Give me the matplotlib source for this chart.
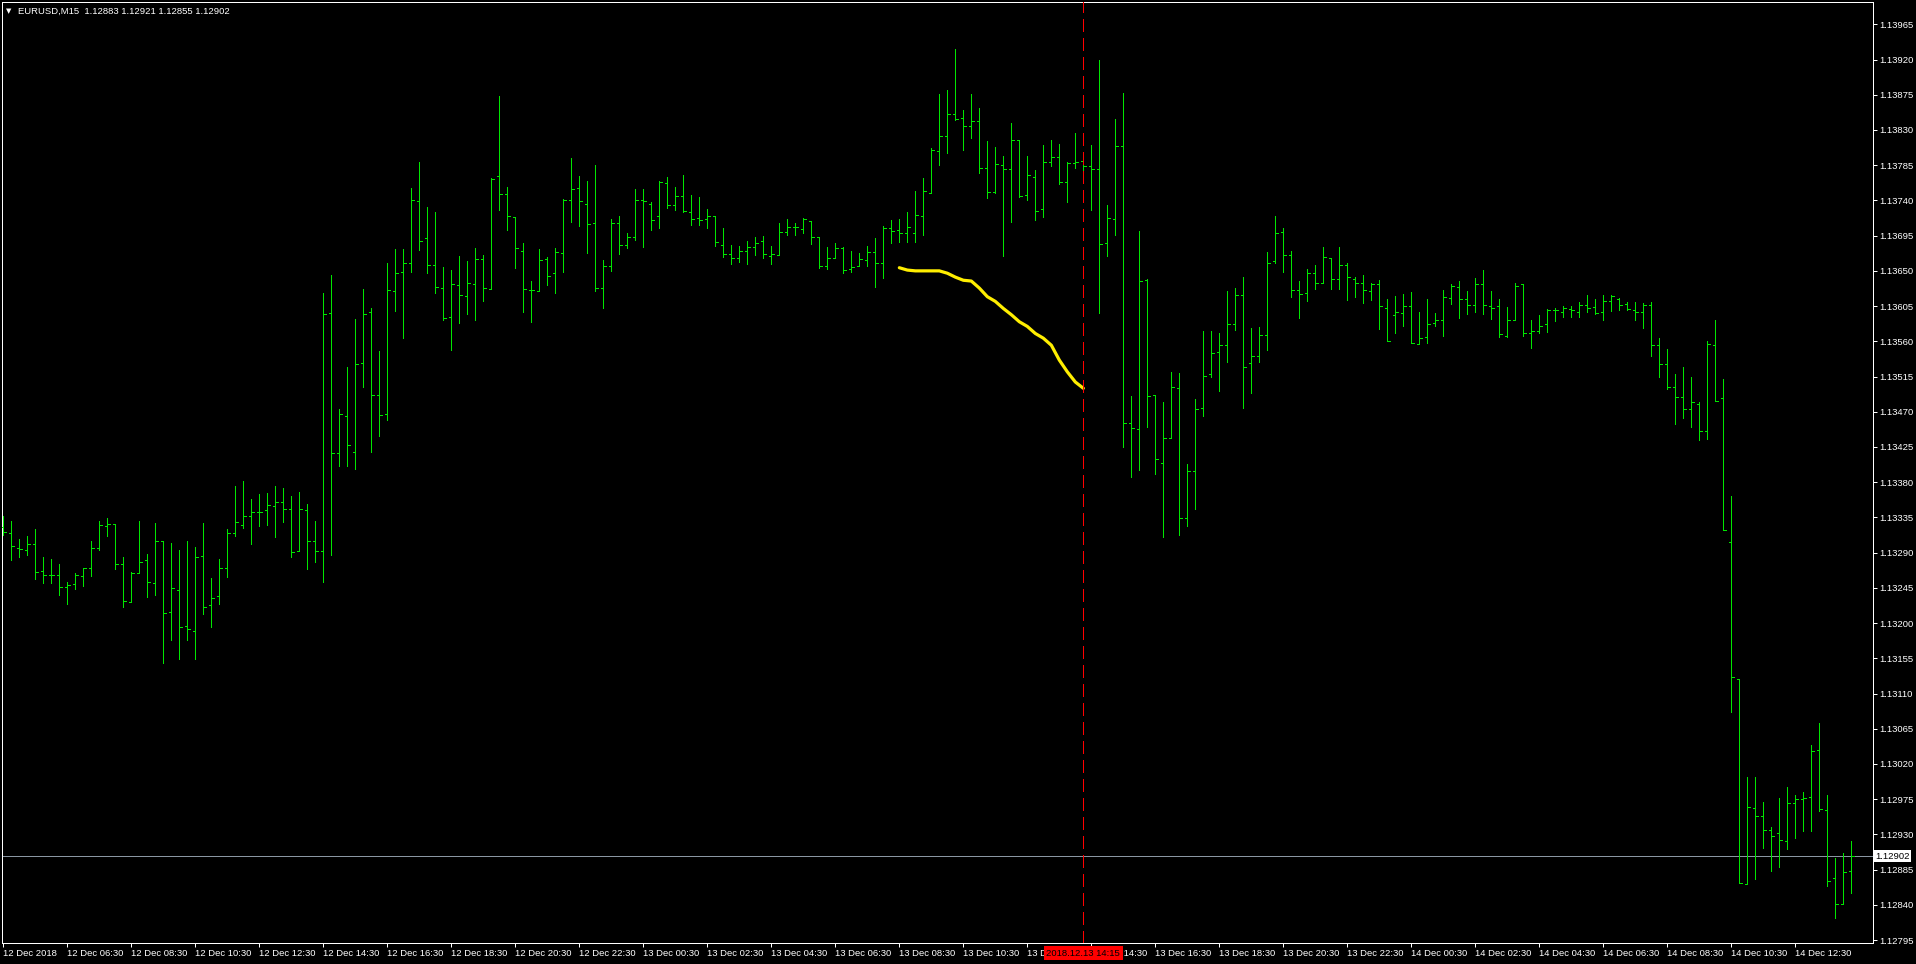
import matplotlib
matplotlib.use('Agg')
import matplotlib.pyplot as plt
from matplotlib.collections import LineCollection
import numpy as np

W, H, DPI = 1916, 964, 100
PX = 72 / DPI  # one pixel in points

# EURUSD M15 bars, prices in points (1e-5), first bar 12 Dec 2018 04:30
opens = [113323, 113315, 113296, 113294, 113301, 113267, 113262, 113262, 113246, 113250,
         113260, 113271, 113296, 113324, 113327, 113276, 113227, 113264, 113281, 113251,
         113305, 113214, 113242, 113196, 113190, 113286, 113223, 113235, 113271, 113315,
         113325, 113337, 113342, 113345, 113350, 113355, 113346, 113292, 113345, 113305,
         113292, 113596, 113417, 113464, 113418, 113532, 113597, 113492, 113467, 113624,
         113648, 113660, 113739, 113692, 113658, 113628, 113591, 113632, 113618, 113633,
         113665, 113627, 113771, 113748, 113719, 113676, 113625, 113624, 113665, 113647,
         113673, 113740, 113756, 113736, 113711, 113628, 113656, 113711, 113683, 113693,
         113740, 113735, 113720, 113762, 113734, 113746, 113725, 113717, 113716, 113720,
         113683, 113671, 113666, 113676, 113680, 113688, 113669, 113670, 113700, 113706,
         113704, 113714, 113693, 113656, 113666, 113679, 113652, 113656, 113664, 113674,
         113660, 113705, 113702, 113699, 113698, 113720, 113749, 113803, 113822, 113851,
         113845, 113835, 113841, 113782, 113751, 113785, 113780, 113817, 113747, 113770,
         113729, 113789, 113795, 113764, 113788, 113790, 113784, 113780, 113686, 113716,
         113809, 113455, 113448, 113638, 113491, 113405, 113436, 113500, 113334, 113394,
         113475, 113518, 113546, 113555, 113582, 113619, 113532, 113541, 113568, 113663,
         113700, 113670, 113626, 113622, 113647, 113634, 113667, 113639, 113657, 113640,
         113634, 113624, 113633, 113603, 113593, 113596, 113605, 113557, 113565, 113583,
         113587, 113615, 113629, 113614, 113607, 113633, 113605, 113605, 113567, 113587,
         113633, 113571, 113573, 113582, 113600, 113597, 113601, 113598, 113607, 113604,
         113597, 113612, 113614, 113608, 113600, 113597, 113607, 113555, 113531, 113501,
         113489, 113474, 113480, 113445, 113555, 113487, 113303, 113128, 112867, 112964,
         112954, 112936, 112932, 112922, 112970, 112975, 112978, 113038, 112961, 112874,
         112841, 112883]
highs = [113337, 113331, 113308, 113311, 113320, 113284, 113282, 113275, 113253, 113264,
         113271, 113305, 113331, 113334, 113327, 113285, 113265, 113330, 113288, 113328,
         113305, 113302, 113293, 113305, 113297, 113328, 113257, 113282, 113320, 113375,
         113382, 113359, 113365, 113366, 113375, 113373, 113362, 113368, 113352, 113331,
         113622, 113645, 113474, 113527, 113589, 113627, 113603, 113548, 113660, 113678,
         113678, 113756, 113789, 113732, 113725, 113655, 113651, 113669, 113663, 113679,
         113670, 113769, 113874, 113757, 113719, 113686, 113637, 113678, 113668, 113679,
         113742, 113794, 113771, 113765, 113785, 113664, 113716, 113720, 113699, 113754,
         113754, 113738, 113765, 113770, 113757, 113773, 113747, 113745, 113729, 113720,
         113705, 113683, 113682, 113688, 113693, 113695, 113682, 113711, 113716, 113711,
         113718, 113714, 113693, 113681, 113686, 113681, 113676, 113673, 113682, 113692,
         113707, 113715, 113716, 113725, 113752, 113768, 113807, 113876, 113881, 113934,
         113856, 113876, 113858, 113816, 113808, 113797, 113839, 113817, 113797, 113779,
         113811, 113817, 113812, 113789, 113826, 113794, 113811, 113919, 113734, 113844,
         113877, 113490, 113701, 113640, 113491, 113482, 113521, 113519, 113403, 113486,
         113573, 113573, 113571, 113624, 113628, 113642, 113577, 113578, 113674, 113720,
         113705, 113675, 113637, 113652, 113657, 113680, 113667, 113680, 113660, 113642,
         113645, 113634, 113638, 113614, 113618, 113620, 113623, 113597, 113614, 113596,
         113626, 113633, 113637, 113624, 113641, 113651, 113624, 113614, 113604, 113634,
         113633, 113587, 113594, 113601, 113603, 113605, 113605, 113610, 113619, 113614,
         113619, 113619, 113615, 113610, 113610, 113609, 113610, 113564, 113550, 113518,
         113527, 113515, 113482, 113560, 113587, 113512, 113362, 113129, 113003, 113003,
         112971, 112939, 112976, 112990, 112980, 112984, 113044, 113072, 112980, 112900,
         112906, 112921]
lows = [113312, 113281, 113284, 113287, 113256, 113251, 113251, 113236, 113225, 113243,
        113247, 113260, 113294, 113311, 113269, 113220, 113227, 113264, 113233, 113236,
        113149, 113179, 113154, 113178, 113154, 113211, 113195, 113225, 113259, 113311,
        113321, 113301, 113324, 113325, 113310, 113329, 113284, 113292, 113269, 113278,
        113253, 113287, 113401, 113401, 113397, 113501, 113419, 113439, 113460, 113599,
        113564, 113649, 113677, 113647, 113622, 113587, 113549, 113583, 113595, 113587,
        113611, 113627, 113728, 113702, 113654, 113598, 113585, 113624, 113632, 113622,
        113648, 113713, 113707, 113673, 113624, 113603, 113650, 113672, 113679, 113690,
        113680, 113702, 113705, 113730, 113728, 113725, 113708, 113709, 113705, 113682,
        113668, 113659, 113661, 113659, 113670, 113667, 113659, 113670, 113696, 113696,
        113698, 113684, 113654, 113653, 113666, 113647, 113648, 113656, 113656, 113629,
        113641, 113685, 113687, 113687, 113687, 113696, 113749, 113785, 113800, 113843,
        113804, 113820, 113775, 113743, 113750, 113669, 113712, 113745, 113740, 113715,
        113719, 113784, 113761, 113738, 113781, 113775, 113728, 113596, 113669, 113696,
        113425, 113387, 113395, 113450, 113391, 113310, 113436, 113312, 113324, 113346,
        113464, 113515, 113496, 113534, 113574, 113475, 113494, 113534, 113549, 113660,
        113649, 113616, 113590, 113612, 113627, 113634, 113627, 113627, 113613, 113616,
        113609, 113613, 113576, 113561, 113570, 113580, 113558, 113557, 113558, 113579,
        113567, 113608, 113590, 113595, 113598, 113595, 113588, 113566, 113565, 113587,
        113567, 113552, 113571, 113572, 113586, 113591, 113591, 113591, 113598, 113595,
        113587, 113599, 113600, 113600, 113587, 113577, 113541, 113514, 113499, 113454,
        113462, 113451, 113434, 113435, 113484, 113319, 113086, 112868, 112867, 112873,
        112913, 112883, 112888, 112911, 112925, 112935, 112935, 112960, 112864, 112823,
        112841, 112855]
closes = [113316, 113298, 113295, 113301, 113265, 113262, 113262, 113246, 113249, 113262,
          113271, 113296, 113325, 113327, 113276, 113228, 113264, 113278, 113253, 113305,
          113213, 113245, 113195, 113193, 113285, 113221, 113232, 113271, 113315, 113329,
          113337, 113342, 113342, 113351, 113355, 113346, 113291, 113346, 113305, 113292,
          113595, 113417, 113467, 113427, 113531, 113595, 113491, 113466, 113625, 113647,
          113660, 113740, 113688, 113657, 113629, 113590, 113633, 113619, 113635, 113665,
          113628, 113767, 113748, 113720, 113679, 113627, 113625, 113664, 113644, 113674,
          113740, 113754, 113739, 113710, 113628, 113656, 113711, 113683, 113693, 113740,
          113739, 113715, 113764, 113734, 113746, 113726, 113716, 113715, 113720, 113687,
          113671, 113666, 113675, 113681, 113685, 113671, 113671, 113700, 113706, 113706,
          113716, 113693, 113656, 113666, 113679, 113651, 113655, 113665, 113674, 113660,
          113705, 113701, 113699, 113706, 113721, 113752, 113804, 113822, 113850, 113844,
          113835, 113841, 113781, 113751, 113786, 113780, 113817, 113746, 113772, 113727,
          113789, 113796, 113764, 113788, 113789, 113784, 113780, 113684, 113718, 113809,
          113455, 113449, 113637, 113490, 113410, 113436, 113501, 113334, 113394, 113473,
          113516, 113545, 113555, 113582, 113619, 113527, 113541, 113568, 113660, 113698,
          113670, 113625, 113621, 113647, 113635, 113668, 113639, 113657, 113642, 113635,
          113625, 113633, 113605, 113561, 113597, 113605, 113558, 113564, 113582, 113587,
          113616, 113631, 113614, 113607, 113633, 113606, 113602, 113569, 113587, 113631,
          113571, 113573, 113580, 113600, 113600, 113602, 113600, 113607, 113603, 113596,
          113611, 113618, 113607, 113601, 113598, 113606, 113555, 113531, 113502, 113489,
          113473, 113482, 113446, 113556, 113484, 113319, 113131, 112868, 112965, 112954,
          112936, 112928, 112923, 112970, 112975, 112977, 113037, 112963, 112870, 112841,
          112882, 112902]

# yellow indicator line, starts at bar 112
yellow_start = 112
yellow = [113654, 113651, 113650, 113650, 113650, 113650, 113647, 113642, 113638, 113637,
          113628, 113617, 113611, 113602, 113594, 113585, 113579, 113570, 113564, 113555,
          113536, 113521, 113508, 113500]

marker_bar = 135
marker_label = '2018.12.13 14:15'
bid = 112902
title = 'EURUSD,M15  1.12883 1.12921 1.12855 1.12902'

x_labels = ['12 Dec 2018', '12 Dec 06:30', '12 Dec 08:30', '12 Dec 10:30', '12 Dec 12:30',
            '12 Dec 14:30', '12 Dec 16:30', '12 Dec 18:30', '12 Dec 20:30', '12 Dec 22:30',
            '13 Dec 00:30', '13 Dec 02:30', '13 Dec 04:30', '13 Dec 06:30', '13 Dec 08:30',
            '13 Dec 10:30', '13 Dec 12:30', '13 Dec 14:30', '13 Dec 16:30', '13 Dec 18:30',
            '13 Dec 20:30', '13 Dec 22:30', '14 Dec 00:30', '14 Dec 02:30', '14 Dec 04:30',
            '14 Dec 06:30', '14 Dec 08:30', '14 Dec 10:30', '14 Dec 12:30']
label_step = 8
y_ticks = [112795 + 45 * k for k in range(27)]

FONT = 'Liberation Sans'
FS = 6.8
GREEN = '#00e600'

o = np.array(opens) / 1e5
h = np.array(highs) / 1e5
l = np.array(lows) / 1e5
c = np.array(closes) / 1e5
idx = np.arange(len(o))

fig = plt.figure(figsize=(W / DPI, H / DPI), dpi=DPI, facecolor='black')
lpx, rpx, tpx, bpx = 2, 1873, 2.3, 942.7
ax = fig.add_axes([lpx / W, 1 - bpx / H, (rpx - lpx) / W, (bpx - tpx) / H])
ax.set_facecolor('black')

tw = 0.3
segs = [[(i, l[i]), (i, h[i])] for i in idx]
segs += [[(i - tw, o[i]), (i, o[i])] for i in idx]
segs += [[(i, c[i]), (i + tw, c[i])] for i in idx]
ax.add_collection(LineCollection(segs, colors=GREEN, linewidths=PX, antialiased=False, zorder=3))

yx = np.arange(yellow_start, yellow_start + len(yellow))
ax.plot(yx, np.array(yellow) / 1e5, color='#ffee00', lw=3.2 * PX, zorder=4, solid_capstyle='round')

ax.axhline(bid / 1e5, color='#8a96a2', lw=PX, zorder=2, antialiased=False)
ax.axvline(marker_bar, color='#ff0000', lw=PX, dashes=(12, 6), zorder=5, antialiased=False)

ax.set_xlim((lpx - 3.33) / 8, (rpx - 3.33) / 8)
ax.set_ylim(1.127917, 1.139931)

for s in ax.spines.values():
    s.set_color('white')
    s.set_linewidth(PX)

ax.yaxis.tick_right()
ax.set_yticks(np.array(y_ticks) / 1e5)
ax.set_yticklabels(['%.5f' % (v / 1e5) for v in y_ticks])
ax.set_xticks(np.arange(len(x_labels)) * label_step)
ax.set_xticklabels(x_labels)
ax.tick_params(colors='white', labelcolor='white', labelsize=FS, length=4 * PX, width=PX,
               direction='out')
ax.tick_params(axis='y', pad=2)
ax.tick_params(axis='x', pad=2)
for t in ax.get_xticklabels() + ax.get_yticklabels():
    t.set_fontfamily(FONT)
for t in ax.get_xticklabels():
    t.set_ha('left')

# last price box on the price scale
ax.text(1.001, bid / 1e5, '%.5f' % (bid / 1e5), transform=ax.get_yaxis_transform(),
        ha='left', va='center', fontsize=FS, family=FONT, color='black', clip_on=False,
        bbox=dict(boxstyle='square,pad=0.15', fc='white', ec='none'), zorder=6)

# red time label under the marker line
ax.text(marker_bar, -0.011, marker_label, transform=ax.get_xaxis_transform(),
        ha='center', va='center', fontsize=FS, family=FONT, color='black', clip_on=False,
        bbox=dict(boxstyle='square,pad=0.25', fc='#ff0000', ec='none'), zorder=6)

fig.text(6 / W, 1 - 11 / H, '\u25bc', color='white', fontsize=5, va='center', ha='left')
fig.text(18 / W, 1 - 11 / H, title, color='white', fontsize=FS, family=FONT, va='center', ha='left')

fig.savefig('out.png', dpi=DPI, facecolor='black')
